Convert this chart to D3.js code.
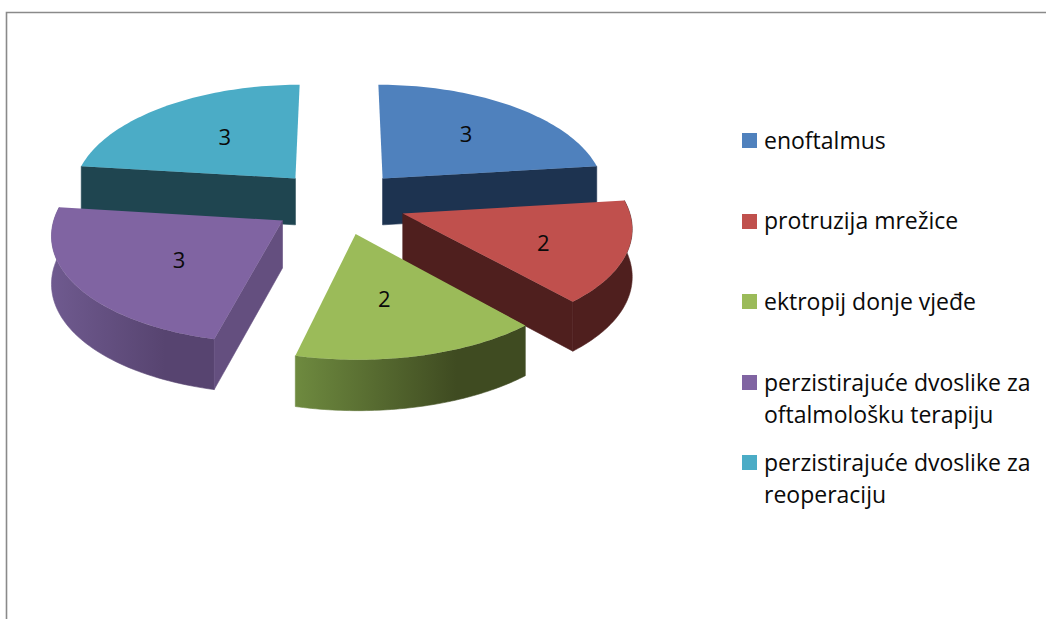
<!DOCTYPE html>
<html><head><meta charset="utf-8">
<script src="https://cdn.jsdelivr.net/npm/d3@7"></script>
<style>html,body{margin:0;padding:0;background:#fff}svg{display:block}text{font-family:"Open Sans","Noto Sans",sans-serif;fill:#0a0a0a}</style>
</head><body><svg id="c" width="1046" height="619"></svg>
<script>
const categories = ["enoftalmus","protruzija mrežice","ektropij donje vjeđe","perzistirajuće dvoslike za oftalmološku terapiju","perzistirajuće dvoslike za reoperaciju"];
const values = [3,2,2,3,3];
const topColors = ["#4f81bd","#c0504d","#9bbb59","#8064a2","#4bacc6"];
const faceColors = ["#1d3350","#4f1f1e","#3f4b21","#644f7f","#1f4550"];
const rimLeft = ["#2a4a75","#4f1f1e","#6e8a3f","#6f5a8f","#2a6270"];
const rimRight = ["#1d3350","#4f1f1e","#3f4b21","#574470","#1f4550"];
const legendLines = [["enoftalmus"],["protruzija mrežice"],["ektropij donje vjeđe"],["perzistirajuće dvoslike za","oftalmološku terapiju"],["perzistirajuće dvoslike za","reoperaciju"]];
const labelNudgeX = [5,13,-7,12,8];
const labelNudgeY = [-2,7,-3,2,1];

const svg = d3.select("#c");
svg.append("path").attr("d","M6.5 619V12.5H1046").attr("fill","none").attr("stroke","#8a8a8a").attr("stroke-width",1.6);

// perspective projection of the tilted pie plane
const cx=339, cy=202, bx=224.5, by=107, px=0.11, py=0.096, explode=0.3, depth=47;
const X=(x,y)=>cx+bx*x/(1-px*y);
const Y=(y)=>cy+by*y/(1-py*y);
const D=(y)=>depth/(1-0.06*y);
const project=(wx,wy,low)=>[X(wx,wy),Y(wy)+(low?D(wy):0)];

const pie=d3.pie().sort(null).value(d=>d).startAngle(0).endAngle(2*Math.PI);
const arcs=pie(values).map((a,i)=>{
  const mid=(a.startAngle+a.endAngle)/2;
  return {i,a0:a.startAngle,a1:a.endAngle,mid,ox:explode*Math.sin(mid),oy:-explode*Math.cos(mid)};
});
const wp=(s,ang,r,low)=>project(s.ox+r*Math.sin(ang),s.oy-r*Math.cos(ang),low);
const line=d3.line();
const defs=svg.append("defs");
arcs.forEach(s=>{
  const g=defs.append("linearGradient").attr("id","rim"+s.i);
  g.append("stop").attr("offset","0").attr("stop-color",rimLeft[s.i]);
  g.append("stop").attr("offset","0.7").attr("stop-color",rimRight[s.i]);
  g.append("stop").attr("offset","1").attr("stop-color",rimRight[s.i]);
});

arcs.slice().sort((a,b)=>a.oy-b.oy).forEach(s=>{
  const g=svg.append("g");
  const face=(ang)=>[wp(s,ang,0,false),wp(s,ang,1,false),wp(s,ang,1,true),wp(s,ang,0,true)];
  // outer rim
  const lo=Math.max(s.a0,Math.PI/2-0.12), hi=Math.min(s.a1,3*Math.PI/2+0.12);
  if(hi>lo){
    const t=d3.range(0,61).map(k=>lo+(hi-lo)*k/60);
    const pts=t.map(a=>wp(s,a,1,false)).concat(t.slice().reverse().map(a=>wp(s,a,1,true)));
    g.append("path").attr("d",line(pts)+"Z").attr("fill",`url(#rim${s.i})`).attr("stroke",`url(#rim${s.i})`).attr("stroke-width",0.6);
  }
  // radial cut faces that look towards the viewer
  if(Math.sin(s.a0)<-0.001) g.append("path").attr("d",line(face(s.a0))+"Z").attr("fill",faceColors[s.i]).attr("stroke",faceColors[s.i]).attr("stroke-width",0.6);
  if(Math.sin(s.a1)>0.001) g.append("path").attr("d",line(face(s.a1))+"Z").attr("fill",faceColors[s.i]).attr("stroke",faceColors[s.i]).attr("stroke-width",0.6);
  // top
  const tt=d3.range(0,61).map(k=>s.a0+(s.a1-s.a0)*k/60);
  const top=[wp(s,0,0,false)].concat(tt.map(a=>wp(s,a,1,false)));
  g.append("path").attr("d",line(top)+"Z").attr("fill",topColors[s.i]);
});

// data labels
arcs.forEach(s=>{
  const p=wp(s,s.mid,0.58,false);
  svg.append("text").attr("x",p[0]+labelNudgeX[s.i]).attr("y",p[1]+8+labelNudgeY[s.i]).attr("text-anchor","middle").attr("font-size",22).text(values[s.i]);
});

// legend
const swatchTop=[133,214,294,375,455];
const baselines=[[149,null],[229,null],[310,null],[391,423],[471,503]];
categories.forEach((c,i)=>{
  svg.append("rect").attr("x",742).attr("y",swatchTop[i]).attr("width",15).attr("height",15).attr("fill",topColors[i]);
  legendLines[i].forEach((t,j)=>{
    svg.append("text").attr("x",764).attr("y",baselines[i][j]).attr("font-size",23).text(t);
  });
});
</script></body></html>
